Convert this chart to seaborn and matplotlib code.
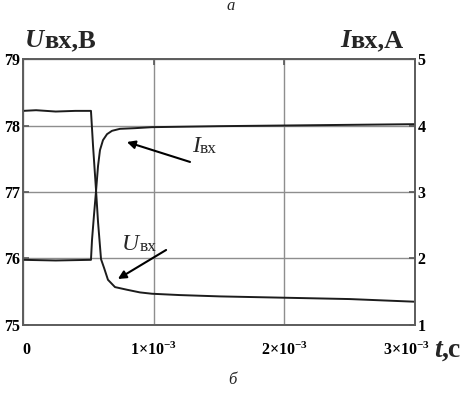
#!/usr/bin/env python3
"""
Input voltage and input current transient, two y axes.
"""

import matplotlib

matplotlib.use("Agg")
import matplotlib.pyplot as plt
import matplotlib.transforms as mtransforms
import pandas as pd
import seaborn as sns

# input voltage trace (time in ms, volts)
U_T_MS = [0.0, 0.10, 0.25, 0.40, 0.52, 0.536, 0.559, 0.574, 0.597, 0.620,
          0.650, 0.704, 0.796, 0.895, 0.987, 1.20, 1.508, 2.005, 2.50, 3.0]
U_V = [78.22, 78.23, 78.21, 78.22, 78.22, 77.69, 77.02, 76.55, 75.99, 75.86,
       75.68, 75.57, 75.53, 75.49, 75.47, 75.45, 75.43, 75.41, 75.39, 75.35]

# input current trace (time in ms, amperes)
I_T_MS = [0.0, 0.25, 0.52, 0.528, 0.543, 0.559, 0.574, 0.589, 0.612, 0.643,
          0.681, 0.742, 0.857, 0.987, 1.50, 2.00, 2.50, 3.0]
I_A = [1.98, 1.97, 1.98, 2.28, 2.65, 3.02, 3.39, 3.63, 3.78, 3.87,
       3.92, 3.95, 3.96, 3.975, 3.99, 4.00, 4.01, 4.02]

T_TICKS = [0, 1, 2, 3]
T_LABELS = [r"$0$", r"$1{\times}10^{-3}$", r"$2{\times}10^{-3}$", r"$3{\times}10^{-3}$"]
U_TICKS = [75, 76, 77, 78, 79]
I_TICKS = [1, 2, 3, 4, 5]

LINE = "#1c1c1c"
SPINE = "#5c5c5c"
GRID = "#8e8e8e"


def two_part(fig, x, y, first, second, size1, size2, kw1, kw2, transform):
    t1 = fig.text(x, y, first, transform=transform, fontsize=size1,
                  va="baseline", **kw1)
    fig.axes[0].annotate(second, xy=(1, 0), xycoords=t1, fontsize=size2,
                         va="bottom", ha="left", annotation_clip=False, **kw2)


def main() -> None:
    sns.set_theme(style="white")
    plt.rcParams["font.family"] = ["Liberation Serif", "DejaVu Serif"]
    plt.rcParams["mathtext.fontset"] = "custom"
    plt.rcParams["mathtext.rm"] = "Liberation Serif:bold"
    plt.rcParams["mathtext.it"] = "Liberation Serif:bold:italic"
    plt.rcParams["mathtext.bf"] = "Liberation Serif:bold"

    u_df = pd.DataFrame({"t": U_T_MS, "u": U_V})
    i_df = pd.DataFrame({"t": I_T_MS, "i": I_A})

    fig = plt.figure(figsize=(4.66, 3.96), dpi=100)
    ax = fig.add_axes([0.0494, 0.1793, 0.8412, 0.6717])
    ax2 = ax.twinx()

    sns.lineplot(data=u_df, x="t", y="u", ax=ax, color=LINE, lw=1.4)
    sns.lineplot(data=i_df, x="t", y="i", ax=ax2, color=LINE, lw=1.4)

    ax.set_xlim(0, 3)
    ax.set_ylim(75, 79)
    ax2.set_ylim(1, 5)
    ax.set_xticks(T_TICKS)
    ax.set_xticklabels(T_LABELS, fontsize=11.5)
    ax.set_yticks(U_TICKS)
    ax.set_yticklabels([str(v) for v in U_TICKS], fontsize=11.5, fontweight="bold")
    ax2.set_yticks(I_TICKS)
    ax2.set_yticklabels([str(v) for v in I_TICKS], fontsize=11.5, fontweight="bold")
    ax.set_xlabel("")
    ax.set_ylabel("")
    ax2.set_ylabel("")

    ax.grid(True, color=GRID, lw=1.0)
    ax2.grid(False)
    for a in (ax, ax2):
        for sp in a.spines.values():
            sp.set_color(SPINE)
            sp.set_linewidth(1.2)
    ax.tick_params(axis="x", direction="in", length=4, color=SPINE, top=True,
                   pad=12, labelcolor="black")
    ax.tick_params(axis="y", direction="in", length=4, color=SPINE, pad=2,
                   labelcolor="black")
    ax2.tick_params(axis="y", direction="in", length=4, color=SPINE, pad=2,
                    labelcolor="black")

    # nudge the outer time labels like in the original
    shift_last = mtransforms.ScaledTranslation(-6 / 72, 0, fig.dpi_scale_trans)
    shift_first = mtransforms.ScaledTranslation(3 / 72, 0, fig.dpi_scale_trans)
    last = ax.get_xticklabels()[-1]
    last.set_transform(last.get_transform() + shift_last)
    first = ax.get_xticklabels()[0]
    first.set_transform(first.get_transform() + shift_first)

    # axis titles
    two_part(fig, 0.0536, 0.881, "U", "вх,В", 19, 19,
             dict(fontweight="bold", fontstyle="italic"), dict(fontweight="bold"),
             fig.transFigure)
    two_part(fig, 0.7296, 0.881, "I", "вх,А", 19, 19,
             dict(fontweight="bold", fontstyle="italic"), dict(fontweight="bold"),
             fig.transFigure)
    two_part(fig, 0.932, 0.0985, "t", ",с", 20, 20,
             dict(fontweight="bold", fontstyle="italic"), dict(fontweight="bold"),
             fig.transFigure)

    # curve labels with arrows
    two_part(fig, 0.431, 0.650, "I", "вх", 17, 12.5,
             dict(fontstyle="italic"), dict(), ax.transAxes)
    two_part(fig, 0.253, 0.282, "U", "вх", 17, 12.5,
             dict(fontstyle="italic"), dict(), ax.transAxes)
    arrow = dict(arrowstyle="-|>", color="black", lw=1.5, mutation_scale=12,
                 shrinkA=0, shrinkB=0)
    ax.annotate("", xy=(0.265, 0.688), xytext=(0.426, 0.613),
                xycoords="axes fraction", arrowprops=arrow)
    ax.annotate("", xy=(0.242, 0.173), xytext=(0.365, 0.282),
                xycoords="axes fraction", arrowprops=arrow)

    # panel letters
    fig.text(0.4957, 0.976, "а", fontsize=12, fontstyle="italic", ha="center",
             va="baseline")
    fig.text(0.498, 0.03, "б", fontsize=12, fontstyle="italic", ha="center",
             va="baseline")

    fig.savefig("out.png", dpi=100)
    plt.close(fig)


if __name__ == "__main__":
    main()
